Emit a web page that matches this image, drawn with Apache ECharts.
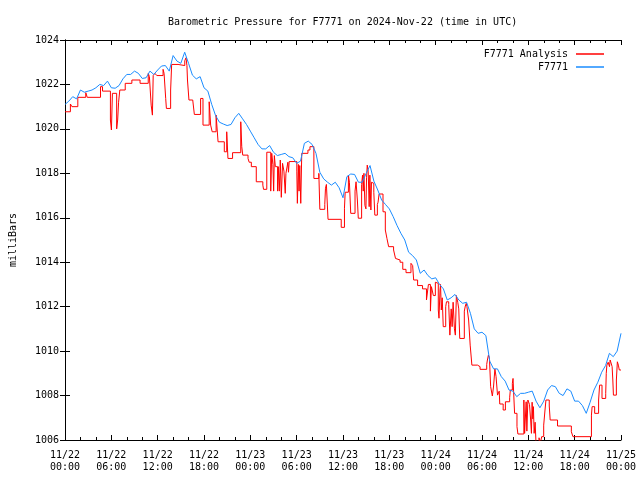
<!DOCTYPE html>
<html>
<head>
<meta charset="utf-8">
<script src="https://cdn.jsdelivr.net/npm/echarts@6/dist/echarts.min.js"></script>
<style>html,body{margin:0;padding:0;background:#fff}#c{width:640px;height:480px}</style>
</head>
<body>
<div id="c"></div>
<script>
// x axis in hours since 2024-11-22 00:00 UTC
var xTickLabels = ['11/22\n00:00','11/22\n06:00','11/22\n12:00','11/22\n18:00','11/23\n00:00','11/23\n06:00','11/23\n12:00','11/23\n18:00','11/24\n00:00','11/24\n06:00','11/24\n12:00','11/24\n18:00','11/25\n00:00'];
var yTicks = [1006, 1008, 1010, 1012, 1014, 1016, 1018, 1020, 1022, 1024];

// F7771 (blue), sampled every 30 minutes from 00:00
var blueStepHours = 0.5;
var blueValues = [
1021.1,1021.25,1021.45,1021.35,1021.75,1021.65,1021.7,1021.75,1021.85,1022.0,
1021.95,1022.15,1021.85,1021.83,1021.95,1022.25,1022.45,1022.45,1022.6,1022.5,
1022.27,1022.3,1022.6,1022.45,1022.65,1022.83,1022.85,1022.6,1023.3,1023.05,
1022.95,1023.45,1022.95,1022.42,1022.25,1022.35,1021.85,1021.7,1021.1,1020.6,
1020.3,1020.22,1020.15,1020.2,1020.5,1020.7,1020.45,1020.2,1019.9,1019.6,
1019.3,1019.1,1019.1,1019.25,1018.95,1018.8,1018.85,1018.9,1018.75,1018.7,
1018.45,1018.55,1019.35,1019.45,1019.3,1018.9,1018.05,1017.75,1017.6,1017.47,
1017.6,1017.35,1016.9,1017.85,1017.97,1017.95,1017.6,1017.6,1018.0,1018.35,
1017.65,1017.25,1016.8,1016.6,1016.4,1016.05,1015.65,1015.3,1015.0,1014.45,
1014.3,1014.1,1013.5,1013.65,1013.4,1013.25,1013.3,1013.0,1012.8,1012.3,
1012.4,1012.55,1012.3,1012.15,1012.2,1011.7,1011.0,1010.8,1010.85,1010.7,
1009.55,1009.2,1009.2,1008.85,1008.65,1008.25,1008.2,1007.95,1008.1,1008.1,
1008.15,1008.2,1007.75,1007.45,1007.75,1008.25,1008.45,1008.4,1008.1,1008.0,
1008.3,1008.2,1007.75,1007.75,1007.55,1007.2,1007.7,1008.25,1008.6,1009.05,
1009.35,1009.9,1009.75,1010.0,1010.8
];

// F7771 Analysis (red): value holds from each time until the next
var redTimes = [
0,0.70,0.90,1.66,2.69,2.88,4.60,4.86,5.88,6.01,6.14,6.69,6.82,6.94,7.10,7.80,8.66,9.72,10.78,10.93,
11.16,11.32,11.42,11.64,11.89,12.70,12.83,13.04,13.13,13.68,13.81,14.64,15.51,15.67,15.79,15.86,16.05,16.54,16.75,17.56,
17.87,18.67,18.86,19.06,19.57,19.82,20.63,20.94,21.10,21.70,22.76,22.89,23.02,23.70,23.85,24.13,24.77,25.62,25.71,26.13,
26.64,26.77,26.92,27.02,27.11,27.24,27.53,27.62,27.75,27.88,28.01,28.17,28.35,28.52,28.61,28.86,28.94,29.03,30.02,30.09,
30.22,30.31,30.40,30.53,30.66,31.46,31.72,32.23,32.87,33.00,33.64,33.73,33.85,34.06,35.77,36.19,36.28,36.70,36.83,37.00,
37.56,37.69,37.86,37.98,38.41,38.53,38.62,38.71,38.84,38.97,39.05,39.14,39.26,39.39,39.48,39.61,39.69,39.81,39.99,40.12,
40.45,40.54,40.67,41.18,41.48,41.69,41.91,42.55,42.80,42.88,43.39,43.74,44.16,44.80,45.02,45.15,45.66,46.30,46.81,47.06,
47.32,47.45,47.70,47.96,48.21,48.34,48.43,48.56,48.63,48.73,48.85,48.98,49.30,49.40,49.69,49.84,50.01,50.13,50.26,50.43,
50.55,50.68,50.86,50.99,51.12,51.71,51.84,51.96,52.05,52.27,52.47,52.69,53.42,53.75,54.61,54.70,54.83,54.96,55.12,55.34,
55.50,55.67,55.82,56.01,56.23,56.30,56.74,57.03,57.58,57.67,57.93,58.02,58.09,58.22,58.53,58.65,59.42,59.52,59.72,59.81,
59.94,60.15,60.30,60.40,60.49,60.58,60.66,60.75,60.88,61.00,61.39,61.51,61.73,61.99,62.16,62.28,62.71,62.83,63.78,65.57,
65.78,68.17,68.26,68.59,69.10,69.23,69.54,70.02,70.09,70.17,70.34,70.51,70.60,70.72,70.85,70.94,71.02,71.40,71.53,71.66,
71.78,72.0
];
var redValues = [
1020.77,1021.12,1021.0,1021.42,1021.63,1021.42,1021.9,1021.7,1020.4,1019.95,1021.6,1020.0,1020.4,1021.2,1021.75,1022.05,1022.2,1022.05,1022.5,1022.35,
1021.07,1020.62,1022.4,1022.5,1022.4,1022.68,1022.5,1021.37,1020.92,1021.75,1022.9,1022.85,1023.07,1023.2,1022.85,1022.2,1021.3,1021.22,1020.65,1021.37,
1020.17,1021.22,1020.17,1019.87,1020.62,1019.42,1018.97,1019.87,1018.67,1018.93,1020.32,1019.2,1018.82,1018.67,1018.5,1018.3,1017.62,1017.47,1017.28,1018.95,
1017.2,1018.9,1018.4,1017.2,1018.8,1018.3,1017.2,1018.3,1017.2,1018.6,1016.92,1018.45,1018.1,1017.1,1018.0,1018.5,1018.05,1018.53,1018.1,1016.65,
1018.4,1017.2,1018.35,1016.65,1018.9,1019.05,1019.2,1017.77,1018.0,1016.38,1016.6,1017.33,1017.5,1015.93,1015.57,1016.43,1017.15,1017.92,1017.6,1016.2,
1017.2,1017.62,1016.8,1015.98,1017.5,1017.92,1017.2,1018.0,1016.55,1016.4,1017.8,1018.37,1018.1,1016.5,1017.92,1016.35,1017.6,1017.55,1017.15,1016.12,
1016.6,1016.7,1017.07,1016.27,1015.45,1015.07,1014.7,1014.55,1014.17,1014.1,1014.0,1013.68,1013.53,1013.95,1013.85,1013.2,1012.95,1012.8,1012.3,1013.0,
1011.8,1012.9,1012.5,1013.1,1013.05,1011.85,1011.48,1012.75,1013.0,1011.85,1012.4,1011.1,1012.0,1012.22,1012.1,1010.72,1011.9,1011.1,1012.2,1011.0,
1010.72,1012.5,1012.2,1011.9,1010.57,1011.8,1012.03,1012.15,1012.0,1011.4,1010.27,1009.37,1009.3,1009.18,1009.4,1009.6,1009.82,1009.7,1008.4,1007.98,
1008.43,1009.2,1008.85,1008.02,1008.2,1007.62,1007.35,1007.72,1007.9,1008.25,1008.55,1008.77,1008.2,1007.2,1006.6,1006.27,1007.8,1006.3,1007.72,1006.4,
1007.8,1007.6,1006.9,1006.3,1007.7,1006.95,1007.5,1006.3,1006.8,1005.8,1006.1,1005.8,1006.15,1006.67,1007.35,1007.8,1007.53,1006.9,1006.63,1006.37,
1006.15,1007.12,1007.5,1007.2,1007.8,1008.47,1007.87,1008.1,1009.0,1009.37,1009.5,1009.3,1009.6,1009.65,1009.3,1008.7,1008.02,1008.7,1009.52,1009.37,
1009.15,1009.15
];

var FONT = 'DejaVu Sans Mono';
var blueData = blueValues.map(function (v, i) { return [i * blueStepHours, v]; });
var redData = redTimes.map(function (t, i) { return [t, redValues[i]]; });

var chart = echarts.init(document.getElementById('c'), null, {renderer: 'canvas'});

function xAxisCommon(pos, showLabels) {
  return {
    type: 'value', position: pos, min: 0, max: 72, interval: 6,
    axisLine: {show: true, lineStyle: {color: '#000', width: 1}},
    axisTick: {show: true, inside: true, length: 5, lineStyle: {color: '#000'}},
    minorTick: {show: true, splitNumber: 3, length: 3, lineStyle: {color: '#000'}},
    splitLine: {show: false},
    axisLabel: {
      show: showLabels, color: '#000', fontFamily: FONT, fontSize: 10, lineHeight: 12, margin: 9,
      formatter: function (v) { return xTickLabels[Math.round(v / 6)] || ''; }
    }
  };
}
function yAxisCommon(pos, showLabels) {
  return {
    type: 'value', position: pos, min: yTicks[0], max: yTicks[yTicks.length - 1], interval: 2,
    axisLine: {show: true, lineStyle: {color: '#000', width: 1}},
    axisTick: {show: true, inside: true, length: 5, lineStyle: {color: '#000'}},
    splitLine: {show: false},
    axisLabel: {show: showLabels, color: '#000', fontFamily: FONT, fontSize: 10, margin: 6,
      formatter: function (v) { return String(v); }}
  };
}

var yLeft = yAxisCommon('left', true);
yLeft.name = 'milliBars';
yLeft.nameLocation = 'middle';
yLeft.nameRotate = 90;
yLeft.nameGap = 47;
yLeft.nameTextStyle = {color: '#000', fontFamily: FONT, fontSize: 10};

chart.setOption({
  animation: false,
  backgroundColor: '#fff',
  title: {
    text: 'Barometric Pressure for F7771 on 2024-Nov-22 (time in UTC)',
    left: 163, top: 12,
    textStyle: {color: '#000', fontFamily: FONT, fontSize: 10, fontWeight: 'normal'}
  },
  legend: [
    {data: ['F7771 Analysis'], right: 31, top: 44, align: 'right', icon: 'rect', itemWidth: 28, itemHeight: 1.5,
     textStyle: {color: '#000', fontFamily: FONT, fontSize: 10, padding: [0, 3, 0, 0]}, selectedMode: false},
    {data: ['F7771'], right: 31, top: 57, align: 'right', icon: 'rect', itemWidth: 28, itemHeight: 1.5,
     textStyle: {color: '#000', fontFamily: FONT, fontSize: 10, padding: [0, 3, 0, 0]}, selectedMode: false}
  ],
  grid: {left: 58, right: 19, top: 40, bottom: 40, containLabel: false},
  xAxis: [xAxisCommon('bottom', true), xAxisCommon('top', false)],
  yAxis: [yLeft, yAxisCommon('right', false)],
  series: [
    {name: 'F7771 Analysis', type: 'line', step: 'end', data: redData, showSymbol: false, symbol: 'none',
     color: '#ff0000', lineStyle: {color: '#ff0000', width: 1}, clip: true, z: 2},
    {name: 'F7771', type: 'line', data: blueData, showSymbol: false, symbol: 'none',
     color: '#1a8cff', lineStyle: {color: '#1a8cff', width: 1}, clip: true, z: 3}
  ]
});
</script>
</body>
</html>
